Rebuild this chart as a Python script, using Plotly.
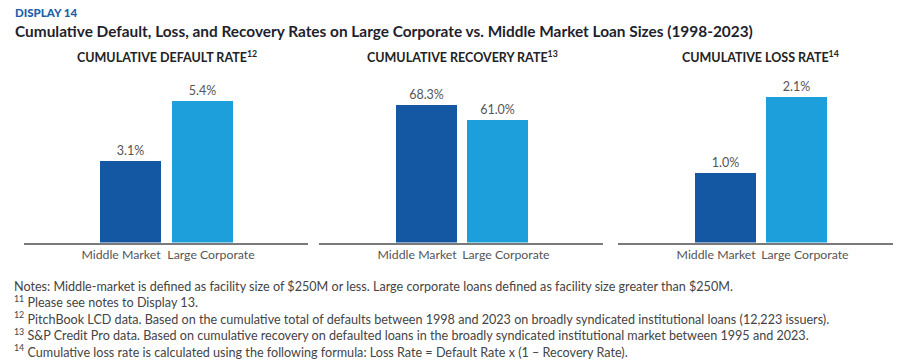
import plotly.graph_objects as go

categories = ["Middle Market", "Large Corporate"]
default_rate = [3.1, 5.4]
recovery_rate = [68.3, 61.0]
loss_rate = [1.0, 2.1]
panel_titles = [
    "CUMULATIVE DEFAULT RATE<sup>12</sup>",
    "CUMULATIVE RECOVERY RATE<sup>13</sup>",
    "CUMULATIVE LOSS RATE<sup>14</sup>",
]
bar_colors = ["#1458A3", "#1C9FDA"]

notes = [
    "Notes: Middle-market is defined as facility size of $250M or less. Large corporate loans defined as facility size greater than $250M.",
    "<sup>11</sup> Please see notes to Display 13.",
    "<sup>12</sup> PitchBook LCD data. Based on the cumulative total of defaults between 1998 and 2023 on broadly syndicated institutional loans (12,223 issuers).",
    "<sup>13</sup> S&P Credit Pro data. Based on cumulative recovery on defaulted loans in the broadly syndicated institutional market between 1995 and 2023.",
    "<sup>14</sup> Cumulative loss rate is calculated using the following formula: Loss Rate = Default Rate x (1 \u2013 Recovery Rate).",
]

W, H = 901, 362
FONT = "Lato"

series = [default_rate, recovery_rate, loss_rate]
x_dom_px = [(24, 308), (319, 603), (618, 893)]
x_ranges = [(-1.479, 2.465), (-1.514, 2.486), (-1.514, 2.359)]
y_max = [6.18, 80.7, 2.345]
y_dom = [(362 - 242.5) / 362, (362 - 80) / 362]

fig = go.Figure()
xs = [0, 1]
for i, vals in enumerate(series):
    ax = "" if i == 0 else str(i + 1)
    fig.add_trace(go.Bar(
        x=xs, y=vals, width=0.85,
        marker=dict(color=bar_colors, line=dict(width=0)),
        texttemplate="%{y:.1f}%", textposition="outside",
        textfont=dict(family=FONT, size=12.5, color="#555555"),
        cliponaxis=False, showlegend=False, hoverinfo="skip",
        xaxis="x" + ax, yaxis="y" + ax,
    ))
    d = x_dom_px[i]
    fig.update_layout(**{
        "xaxis" + ax: dict(
            domain=[d[0] / W, d[1] / W], range=list(x_ranges[i]),
            showline=True, linecolor="#7a7a7a", linewidth=1.5,
            showgrid=False, zeroline=False, ticks="", tickangle=0,
            tickvals=[-0.132, 1.118], ticktext=categories,
            tickfont=dict(family=FONT, size=12.3, color="#555555"),
            anchor="y" + ax, fixedrange=True, automargin=False,
        ),
        "yaxis" + ax: dict(
            domain=y_dom, range=[0, y_max[i]], visible=False,
            anchor="x" + ax, fixedrange=True,
        ),
    })

annotations = []
title_cx = [167, 462, 760]
for i, t in enumerate(panel_titles):
    annotations.append(dict(
        text=t, x=title_cx[i] / W, y=(H - 57) / H, xref="paper", yref="paper",
        xanchor="center", yanchor="middle", showarrow=False,
        font=dict(family=FONT, size=12.5, color="#222222", weight=700),
    ))

annotations.append(dict(
    text="DISPLAY 14", x=13 / W, y=(H - 12) / H, xref="paper", yref="paper",
    xanchor="left", yanchor="middle", showarrow=False,
    font=dict(family=FONT, size=11.5, color="#1D5FAA", weight=900),
))
annotations.append(dict(
    text="Cumulative Default, Loss, and Recovery Rates on Large Corporate vs. Middle Market Loan Sizes (1998-2023)",
    x=13 / W, y=(H - 31) / H, xref="paper", yref="paper",
    xanchor="left", yanchor="middle", showarrow=False,
    font=dict(family=FONT, size=15.4, color="#1F1F2E", weight=700),
))
annotations.append(dict(
    text="<br>".join(notes), x=12 / W, y=(H - 277) / H, xref="paper", yref="paper",
    xanchor="left", yanchor="top", align="left", showarrow=False,
    font=dict(family=FONT, size=12.6, color="#444444"),
))

fig.update_layout(
    width=W, height=H, margin=dict(l=0, r=0, t=0, b=0),
    paper_bgcolor="white", plot_bgcolor="white",
    annotations=annotations, bargap=0,
)

fig.write_html(
    "out.html",
    config={"displayModeBar": False},
    post_script="document.body.style.margin='0px';document.body.style.padding='0px';",
)
